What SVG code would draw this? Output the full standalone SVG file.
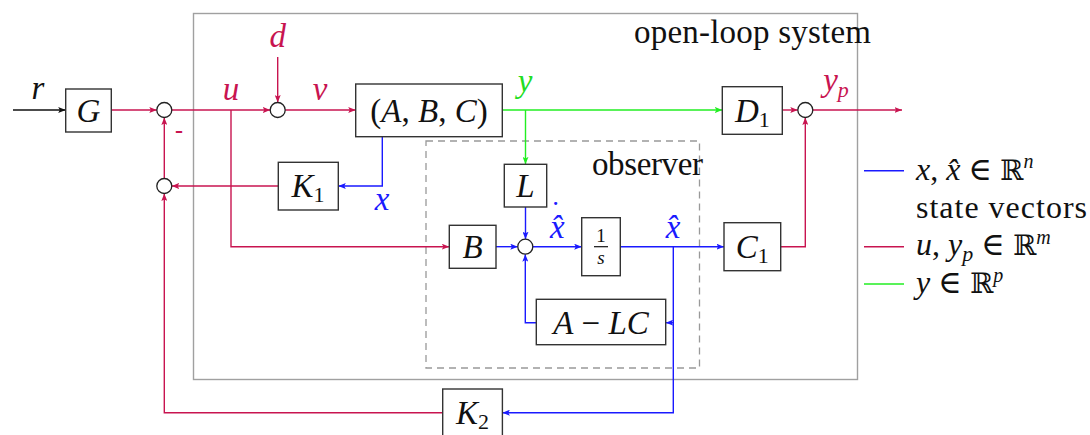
<svg xmlns="http://www.w3.org/2000/svg" width="1090" height="435" viewBox="0 0 1090 435">
  <style>
    text { font-family: "Liberation Serif", "DejaVu Serif", serif; font-size: 33px; fill: #111; }
    .c { text-anchor: middle; }
    .e { text-anchor: end; }
    .sub { font-size: 22px; font-style: normal; }
    .sup { font-size: 20px; font-style: italic; }
    .i { font-style: italic; }
    .bb { font-family: "DejaVu Serif", serif; font-size: 28px; }
    .blk { fill: #fff; stroke: #333; stroke-width: 1.4; }
    .sum { fill: #fff; stroke: #222; stroke-width: 1.3; }
    .frame { fill: none; stroke: #a0a0a0; stroke-width: 1.4; }
    .obs { fill: none; stroke: #999; stroke-width: 1.3; stroke-dasharray: 7 5; }
    .w { fill: none; stroke-width: 1.4; }
    .r { stroke: #c81450; }
    .g { stroke: #22ee22; }
    .b { stroke: #1a1aff; }
    .k { stroke: #111; }
    .ra { marker-end: url(#ar); }
    .ga { marker-end: url(#ag); }
    .ba { marker-end: url(#ab); }
    .ka { marker-end: url(#ak); }
    .tr { fill: #c81450; }
    .tg { fill: #22dd22; }
    .tb { fill: #1a1aff; }
  </style>
  <defs>
    <marker id="ar" markerUnits="userSpaceOnUse" markerWidth="8" markerHeight="6" refX="7.5" refY="3" orient="auto">
      <path d="M0,0 L7.5,3 L0,6 L1.6,3 z" fill="#c81450"/>
    </marker>
    <marker id="ag" markerUnits="userSpaceOnUse" markerWidth="8" markerHeight="6" refX="7.5" refY="3" orient="auto">
      <path d="M0,0 L7.5,3 L0,6 L1.6,3 z" fill="#22ee22"/>
    </marker>
    <marker id="ab" markerUnits="userSpaceOnUse" markerWidth="8" markerHeight="6" refX="7.5" refY="3" orient="auto">
      <path d="M0,0 L7.5,3 L0,6 L1.6,3 z" fill="#1a1aff"/>
    </marker>
    <marker id="ak" markerUnits="userSpaceOnUse" markerWidth="8" markerHeight="6" refX="7.5" refY="3" orient="auto">
      <path d="M0,0 L7.5,3 L0,6 L1.6,3 z" fill="#111"/>
    </marker>
  </defs>

  <rect width="1090" height="435" fill="#fff"/>

  <!-- plant and observer frames -->
  <g id="open-loop-system">
    <rect class="frame" x="193.5" y="13.5" width="664" height="366"/>
    <text class="e" x="871" y="43" textLength="237">open-loop system</text>
  </g>
  <g id="observer">
    <rect class="obs" x="426" y="141" width="273.5" height="227"/>
    <text class="e" x="703" y="175" textLength="111">observer</text>
  </g>

  <!-- signal lines -->
  <g id="connectors">
    <!-- reference input -->
    <path class="w k ka" d="M13,110 H65.7"/>
    <!-- control path u / v -->
    <path class="w r ra" d="M111.3,110 H156.8"/>
    <path class="w r ra" d="M171.8,110 H270.2"/>
    <path class="w r ra" d="M277.7,57 V102.5"/>
    <path class="w r ra" d="M285.2,110 H355.7"/>
    <path class="w r ra" d="M231,110 V246.7 H449.3"/>
    <!-- measured output y -->
    <path class="w g ga" d="M502.3,110 H722.3"/>
    <path class="w g ga" d="M525.5,110 V164.3"/>
    <!-- state feedback -->
    <path class="w b ba" d="M382.3,136.7 V186 H338.3"/>
    <path class="w r ra" d="M278.3,186 H171.8"/>
    <path class="w r ra" d="M164.3,178.5 V117.5"/>
    <path class="w r ra" d="M442.7,412.7 H164.3 V193.5"/>
    <!-- observer internals -->
    <path class="w b ba" d="M525.5,207 V239.2"/>
    <path class="w b ba" d="M496,246.7 H517.8"/>
    <path class="w b ba" d="M532.8,246.7 H581.7"/>
    <path class="w b ba" d="M620.3,246.7 H724"/>
    <path class="w b ba" d="M673.3,246.7 V412.7 H502.4"/>
    <path class="w b ba" d="M673.3,322.7 H665.7"/>
    <path class="w b ba" d="M536.3,322.7 H525.3 V254.2"/>
    <!-- performance output -->
    <path class="w r ra" d="M782.3,110 H797.8"/>
    <path class="w r ra" d="M780.7,246.7 H805.3 V117.5"/>
    <path class="w r ra" d="M812.8,110 H902"/>
  </g>

  <!-- signal labels -->
  <g id="labels">
    <text class="c i" x="38" y="99">r</text>
    <text class="c i tr" x="231" y="100">u</text>
    <text class="c i tr" x="277.7" y="47">d</text>
    <text class="c i tr" x="320" y="100">v</text>
    <text class="c i tg" x="525" y="92">y</text>
    <text class="c i tb" x="382" y="210">x</text>
    <!-- time derivative of the estimate: hat plus a raised dot -->
    <text class="i tb" x="550" y="238">x̂<tspan dx="-11.5" dy="-33" style="font-style:normal;font-size:19px;font-weight:bold">.</tspan></text>
    <text class="c i tb" x="673" y="238">x̂</text>
    <text class="c i tr" x="836" y="91">y<tspan class="sub i" dy="6">p</tspan></text>
    <text class="tr" x="175" y="138" style="font-size:24px;font-weight:bold">-</text>
  </g>

  <!-- blocks -->
  <g id="G">
    <rect class="blk" x="65.7" y="89" width="45.6" height="43"/>
    <text class="c i" x="88.5" y="122">G</text>
  </g>
  <g id="sum-ref">
    <circle class="sum" cx="164.3" cy="110" r="7.5"/>
  </g>
  <g id="sum-fb">
    <circle class="sum" cx="164.3" cy="186" r="7.5"/>
  </g>
  <g id="sum-d">
    <circle class="sum" cx="277.7" cy="110" r="7.5"/>
  </g>
  <g id="ABC">
    <rect class="blk" x="355.7" y="84" width="146.6" height="52.7"/>
    <text class="c" x="429" y="122">(<tspan class="i">A</tspan>, <tspan class="i">B</tspan>, <tspan class="i">C</tspan>)</text>
  </g>
  <g id="K1">
    <rect class="blk" x="278.3" y="162.3" width="60" height="47.7"/>
    <text class="c i" x="308" y="197">K<tspan class="sub" dy="5">1</tspan></text>
  </g>
  <g id="L">
    <rect class="blk" x="504.3" y="164.3" width="42.4" height="42.7"/>
    <text class="c i" x="525.5" y="197">L</text>
  </g>
  <g id="B">
    <rect class="blk" x="449.3" y="225.3" width="46.7" height="43"/>
    <text class="c i" x="472.7" y="258">B</text>
  </g>
  <g id="sum-obs">
    <circle class="sum" cx="525.3" cy="246.7" r="7.5"/>
  </g>
  <g id="integrator">
    <rect class="blk" x="581.7" y="217.7" width="38.6" height="58"/>
    <text class="c" x="601" y="242" style="font-size:19px">1</text>
    <path d="M594,246.7 H608" stroke="#111" stroke-width="1.2"/>
    <text class="c i" x="601" y="264" style="font-size:19px">s</text>
  </g>
  <g id="A-LC">
    <rect class="blk" x="536.3" y="299.3" width="129.4" height="45.4"/>
    <text class="c" x="601" y="334"><tspan class="i">A</tspan> − <tspan class="i">LC</tspan></text>
  </g>
  <g id="K2">
    <rect class="blk" x="442.7" y="389" width="59.7" height="50"/>
    <text class="c i" x="472.5" y="424">K<tspan class="sub" dy="5">2</tspan></text>
  </g>
  <g id="D1">
    <rect class="blk" x="722.3" y="86.7" width="60" height="47.6"/>
    <text class="c i" x="752.3" y="122">D<tspan class="sub" dy="5">1</tspan></text>
  </g>
  <g id="C1">
    <rect class="blk" x="724" y="222.7" width="56.7" height="48"/>
    <text class="c i" x="752.3" y="258">C<tspan class="sub" dy="5">1</tspan></text>
  </g>
  <g id="sum-out">
    <circle class="sum" cx="805.3" cy="110" r="7.5"/>
  </g>

  <!-- legend -->
  <g id="legend" style="font-size:32px">
    <path class="w b" d="M864,170.7 H904"/>
    <path class="w r" d="M864,246.7 H904"/>
    <path class="w g" d="M864,284 H904"/>
    <text x="916" y="180" style="font-size:32px"><tspan class="i">x</tspan>, <tspan class="i">x̂</tspan> ∈ <tspan class="bb">ℝ</tspan><tspan class="sup" dy="-12">n</tspan></text>
    <text x="916" y="218" style="font-size:32px" textLength="171">state vectors</text>
    <text x="916" y="255" style="font-size:32px"><tspan class="i">u</tspan>, <tspan class="i">y</tspan><tspan class="sub i" dy="6">p</tspan><tspan dy="-6"> ∈ </tspan><tspan class="bb">ℝ</tspan><tspan class="sup" dy="-11">m</tspan></text>
    <text x="916" y="293" style="font-size:32px"><tspan class="i">y</tspan> ∈ <tspan class="bb">ℝ</tspan><tspan class="sup" dy="-11">p</tspan></text>
  </g>
</svg>
